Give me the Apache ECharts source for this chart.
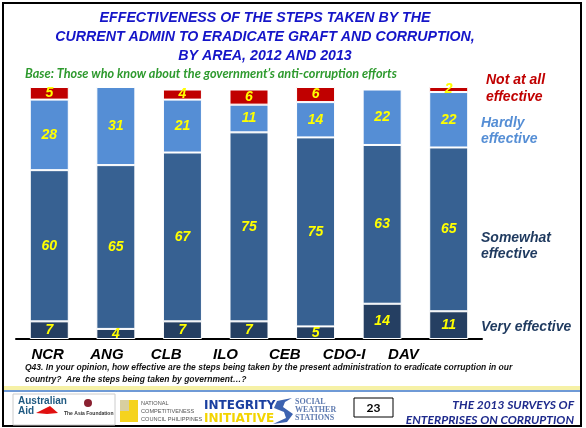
<!DOCTYPE html>
<html>
<head>
<meta charset="utf-8">
<script src="https://cdn.jsdelivr.net/npm/echarts@6/dist/echarts.min.js"></script>
<style>
  html, body { margin: 0; padding: 0; background: #fff; }
  #chart { width: 586px; height: 428px; }
</style>
</head>
<body>
<div id="chart"></div>
<script>
// areas and answers (% of those who know about the anti-corruption efforts)
var areas = ["NCR", "ANG", "CLB", "ILO", "CEB", "CDO-I", "DAV"];
var veryEffective = [7, 4, 7, 7, 5, 14, 11];
var somewhatEffective = [60, 65, 67, 75, 75, 63, 65];
var hardlyEffective = [28, 31, 21, 11, 14, 22, 22];
var notAtAllEffective = [5, null, 4, 6, 6, null, 2];

var titleLines = [
  "EFFECTIVENESS OF THE STEPS TAKEN BY THE",
  "CURRENT ADMIN TO ERADICATE GRAFT AND CORRUPTION,",
  "BY AREA, 2012 AND 2013"
];

var chart = echarts.init(document.getElementById("chart"));

function seg(name, data, color) {
  return {
    name: name,
    type: "bar",
    stack: "all",
    data: data,
    barWidth: 39,
    xAxisIndex: 0,
    yAxisIndex: 0,
    itemStyle: { color: color, borderColor: "#fff", borderWidth: 1 },
    label: {
      show: true,
      position: "inside",
      color: "#ffff00",
      fontFamily: "Liberation Sans",
      fontStyle: "italic",
      fontWeight: "bold",
      fontSize: 14
    },
    animation: false
  };
}

function txt(x, y, text, font, fill, align) {
  return {
    type: "text",
    style: {
      x: x, y: y, text: text, font: font, fill: fill,
      textAlign: align || "left", textVerticalAlign: "middle"
    },
    silent: true
  };
}

function poly(points, fill) {
  return { type: "polygon", shape: { points: points }, style: { fill: fill }, silent: true };
}

var legendFont = "italic bold 14px 'Liberation Sans'";
var titleFont = "italic bold 14.2px 'Liberation Sans'";
var qFont = "italic bold 8.5px 'Liberation Sans'";
var nccFont = "5.6px 'Liberation Sans'";
var swsFont = "bold 8px 'Liberation Serif'";

chart.setOption({
  backgroundColor: "#fff",
  animation: false,
  grid: [
    { left: 16, top: 87, width: 466, height: 252 },
    { left: 18, top: 87, width: 415, height: 252 }
  ],
  xAxis: [
    {
      type: "category",
      gridIndex: 0,
      data: areas,
      axisLine: { lineStyle: { color: "#000", width: 2 } },
      axisTick: { show: false },
      axisLabel: { show: false }
    },
    {
      type: "category",
      gridIndex: 1,
      data: areas,
      axisLine: { show: false },
      axisTick: { show: false },
      axisLabel: {
        margin: 8,
        color: "#000",
        fontFamily: "Liberation Sans",
        fontStyle: "italic",
        fontWeight: "bold",
        fontSize: 15
      }
    }
  ],
  yAxis: [
    { type: "value", gridIndex: 0, min: 0, max: 100, show: false },
    { type: "value", gridIndex: 1, min: 0, max: 100, show: false }
  ],
  series: [
    seg("Very effective", veryEffective, "#253f62"),
    seg("Somewhat effective", somewhatEffective, "#376192"),
    seg("Hardly effective", hardlyEffective, "#558ed5"),
    seg("Not at all effective", notAtAllEffective, "#c00000"),
    { type: "bar", xAxisIndex: 1, yAxisIndex: 1, data: [] }
  ],
  graphic: [
    // slide frame
    { type: "rect", shape: { x: 3, y: 3, width: 578, height: 423 },
      style: { fill: null, stroke: "#000", lineWidth: 2 }, silent: true },
    txt(265, 18, titleLines[0], titleFont, "#1515c8", "center"),
    txt(265, 37, titleLines[1], titleFont, "#1515c8", "center"),
    txt(265, 56, titleLines[2], titleFont, "#1515c8", "center"),
    txt(25, 74, "Base: Those who know about the government\u2019s anti-corruption efforts",
      "italic bold 12.7px Lato", "#2e9a2e"),
    // series names at the right
    txt(486, 80, "Not at all", legendFont, "#c00000"),
    txt(486, 97, "effective", legendFont, "#c00000"),
    txt(481, 123, "Hardly", legendFont, "#558ed5"),
    txt(481, 139, "effective", legendFont, "#558ed5"),
    txt(481, 238, "Somewhat", legendFont, "#1f3a5f"),
    txt(481, 254, "effective", legendFont, "#1f3a5f"),
    txt(481, 327, "Very effective", legendFont, "#1f3a5f"),
    // question
    txt(25, 368, "Q43. In your opinion, how effective are the steps being taken by the present administration to eradicate corruption in our", qFont, "#111"),
    txt(25, 380, "country?  Are the steps being taken by government\u2026?", qFont, "#111"),
    // footer
    { type: "rect", shape: { x: 4, y: 386, width: 576, height: 4 }, style: { fill: "#f6f1a6" }, silent: true },
    { type: "rect", shape: { x: 4, y: 390, width: 576, height: 2 }, style: { fill: "#6f9ad6" }, silent: true },
    { type: "rect", shape: { x: 13, y: 394, width: 102, height: 31 },
      style: { fill: "#fff", stroke: "#ccc", lineWidth: 1 }, silent: true },
    txt(18, 401, "Australian", "bold 10px 'Liberation Sans'", "#1f5a82"),
    txt(18, 411, "Aid", "bold 10px 'Liberation Sans'", "#1f5a82"),
    { type: "circle", shape: { cx: 88, cy: 403, r: 4 }, style: { fill: "#8a2030" }, silent: true },
    txt(64, 414, "The Asia Foundation", "bold 5px 'Liberation Sans'", "#333"),
    poly([[36, 413], [50, 406], [58, 413], [47, 414]], "#e01010"),
    { type: "rect", shape: { x: 120, y: 400, width: 18, height: 22 }, style: { fill: "#f5d31e" }, silent: true },
    { type: "rect", shape: { x: 120, y: 400, width: 9, height: 11 }, style: { fill: "#d8cfa0" }, silent: true },
    txt(141, 403, "NATIONAL", nccFont, "#555"),
    txt(141, 411, "COMPETITIVENESS", nccFont, "#555"),
    txt(141, 419, "COUNCIL PHILIPPINES", nccFont, "#555"),
    txt(204, 406, "INTEGRITY", "bold 12px 'DejaVu Sans'", "#1a3fa0"),
    txt(204, 419, "INITIATIVE", "bold 12px 'DejaVu Sans'", "#f3d400"),
    poly([[292, 398], [277, 401], [274, 408], [284, 412], [286, 418], [273, 424], [287, 422], [293, 414], [283, 407], [285, 402]], "#3d63b0"),
    txt(295, 402, "SOCIAL", swsFont, "#5f7bb0"),
    txt(295, 410, "WEATHER", swsFont, "#5f7bb0"),
    txt(295, 418, "STATIONS", swsFont, "#5f7bb0"),
    { type: "rect", shape: { x: 354, y: 398, width: 39, height: 19 },
      style: { fill: "#fff", stroke: "#000", lineWidth: 1 }, silent: true },
    txt(373.5, 408, "23", "bold 12px Lato", "#000", "center"),
    txt(574, 405, "THE 2013 SURVEYS OF", "italic bold 12px Lato", "#1e2a8c", "right"),
    txt(574, 420, "ENTERPRISES ON CORRUPTION", "italic bold 12px Lato", "#1e2a8c", "right")
  ]
});
</script>
</body>
</html>
